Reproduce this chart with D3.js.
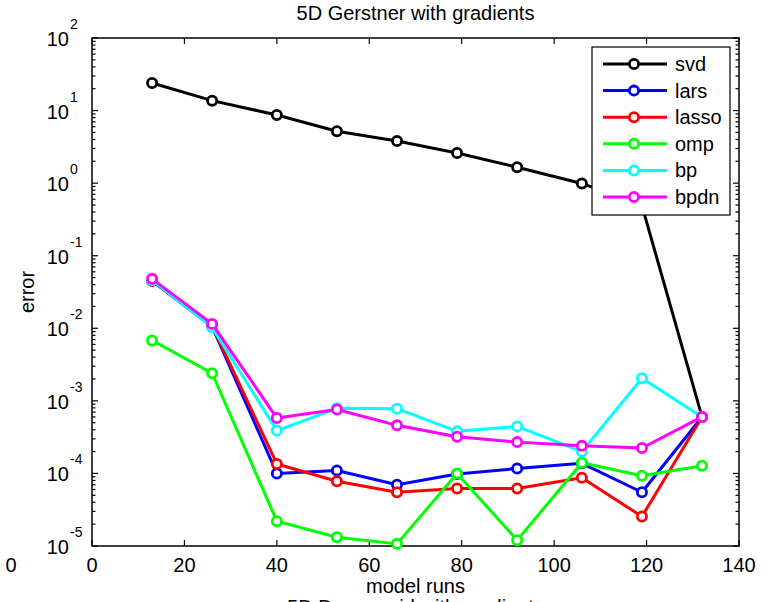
<!DOCTYPE html>
<html>
<head>
<meta charset="utf-8">
<script src="https://cdn.jsdelivr.net/npm/d3@7"></script>
<style>
  html, body { margin: 0; padding: 0; background: #fff; }
  svg { display: block; font-family: "Liberation Sans", Arial, sans-serif; }
</style>
</head>
<body>
<svg id="chart" width="769" height="602"></svg>
<script>
// ---- data ----
const modelRuns = [13, 26, 40, 53, 66, 79, 92, 106, 119, 132];
const svd   = [24, 13.7, 8.7, 5.2, 3.8, 2.6, 1.66, 0.99, 0.49, 6.0e-4];
const lars  = [0.045, 0.0105, 1.0e-4, 1.1e-4, 7.0e-5, 9.8e-5, 1.17e-4, 1.38e-4, 5.5e-5, 6.0e-4];
const lasso = [0.045, 0.0108, 1.35e-4, 7.8e-5, 5.5e-5, 6.2e-5, 6.2e-5, 8.7e-5, 2.55e-5, 6.0e-4];
const omp   = [6.8e-3, 2.4e-3, 2.2e-5, 1.32e-5, 1.07e-5, 1.0e-4, 1.2e-5, 1.4e-4, 9.3e-5, 1.28e-4];
const bp    = [0.046, 0.0103, 3.9e-4, 7.9e-4, 7.8e-4, 3.8e-4, 4.45e-4, 2.0e-4, 2.05e-3, 6.0e-4];
const bpdn  = [0.048, 0.0115, 5.8e-4, 7.6e-4, 4.6e-4, 3.2e-4, 2.7e-4, 2.4e-4, 2.24e-4, 6.0e-4];
const seriesNames = ["svd", "lars", "lasso", "omp", "bp", "bpdn"];
const seriesValues = [svd, lars, lasso, omp, bp, bpdn];
const seriesColors = ["#000000", "#0000ff", "#ff0000", "#00ff00", "#00ffff", "#ff00ff"];
const xTicks = [0, 20, 40, 60, 80, 100, 120, 140];
const yExponents = [-5, -4, -3, -2, -1, 0, 1, 2];

// ---- layout ----
const svg = d3.select("#chart");
const L = 92, R = 739, T = 38, B = 546;
const x = d3.scaleLinear().domain([0, 140]).range([L, R]);
const y = d3.scaleLog().domain([1e-5, 1e2]).range([B, T]);
const FS = 20;

// minor y ticks
const minorY = [];
for (let e = -5; e < 2; e++) for (let m = 2; m <= 9; m++) minorY.push(m * Math.pow(10, e));

const axes = svg.append("g").attr("stroke", "#000").attr("stroke-width", 1.2);
// box
axes.append("rect").attr("x", L).attr("y", T).attr("width", R - L).attr("height", B - T)
  .attr("fill", "none").attr("stroke-width", 1.5);

// x ticks (bottom & top, inside)
xTicks.forEach(t => {
  axes.append("line").attr("x1", x(t)).attr("x2", x(t)).attr("y1", B).attr("y2", B - 6);
  axes.append("line").attr("x1", x(t)).attr("x2", x(t)).attr("y1", T).attr("y2", T + 6);
});
// y major ticks
yExponents.forEach(e => {
  const yy = y(Math.pow(10, e));
  axes.append("line").attr("x1", L).attr("x2", L + 6).attr("y1", yy).attr("y2", yy);
  axes.append("line").attr("x1", R).attr("x2", R - 6).attr("y1", yy).attr("y2", yy);
});
// y minor ticks
minorY.forEach(v => {
  const yy = y(v);
  axes.append("line").attr("x1", L).attr("x2", L + 3.5).attr("y1", yy).attr("y2", yy);
  axes.append("line").attr("x1", R).attr("x2", R - 3.5).attr("y1", yy).attr("y2", yy);
});

// x tick labels
svg.append("g").selectAll("text").data(xTicks).join("text")
  .attr("x", d => x(d)).attr("y", 572).attr("text-anchor", "middle")
  .attr("font-size", FS).text(d => d);

// y tick labels 10^e
const yl = svg.append("g");
yExponents.forEach(e => {
  const yy = y(Math.pow(10, e));
  yl.append("text").attr("x", 69).attr("y", yy + 8).attr("text-anchor", "end")
    .attr("font-size", FS).text("10");
  yl.append("text").attr("x", 70).attr("y", yy - 9).attr("text-anchor", "start")
    .attr("font-size", 14).text(String(e));
});

// titles
svg.append("text").attr("x", (L + R) / 2).attr("y", 20).attr("text-anchor", "middle")
  .attr("font-size", FS).text("5D Gerstner with gradients");
svg.append("text").attr("x", (L + R) / 2).attr("y", 593).attr("text-anchor", "middle")
  .attr("font-size", FS).text("model runs");
svg.append("text").attr("transform", `translate(34,${(T + B) / 2}) rotate(-90)`)
  .attr("text-anchor", "middle").attr("font-size", FS).text("error");
// stray artefacts at the edges of the picture
svg.append("text").attr("x", 11).attr("y", 572).attr("text-anchor", "middle")
  .attr("font-size", FS).text("0");
svg.append("text").attr("x", (L + R) / 2).attr("y", 614).attr("text-anchor", "middle")
  .attr("font-size", FS).text("5D Dense grid with gradients");

// ---- series ----
const line = d3.line().x(d => x(d[0])).y(d => y(d[1]));
const plot = svg.append("g");
seriesValues.forEach((vals, i) => {
  const pts = modelRuns.map((r, j) => [r, vals[j]]);
  const g = plot.append("g");
  g.append("path").attr("d", line(pts)).attr("fill", "none")
    .attr("stroke", seriesColors[i]).attr("stroke-width", 3).attr("stroke-linejoin", "round");
  g.selectAll("circle").data(pts).join("circle")
    .attr("cx", d => x(d[0])).attr("cy", d => y(d[1])).attr("r", 4.6)
    .attr("fill", "#fff").attr("stroke", seriesColors[i]).attr("stroke-width", 2.8);
});

// ---- legend ----
const lg = svg.append("g");
lg.append("rect").attr("x", 592).attr("y", 47).attr("width", 138).attr("height", 168)
  .attr("fill", "#fff").attr("stroke", "#000").attr("stroke-width", 1.2);
seriesNames.forEach((name, i) => {
  const yy = 64 + i * 26.6;
  lg.append("line").attr("x1", 603).attr("x2", 667).attr("y1", yy).attr("y2", yy)
    .attr("stroke", seriesColors[i]).attr("stroke-width", 3);
  lg.append("circle").attr("cx", 634).attr("cy", yy).attr("r", 4.6)
    .attr("fill", "#fff").attr("stroke", seriesColors[i]).attr("stroke-width", 2.8);
  lg.append("text").attr("x", 675).attr("y", yy + 7).attr("font-size", FS).text(name);
});
</script>
</body>
</html>
